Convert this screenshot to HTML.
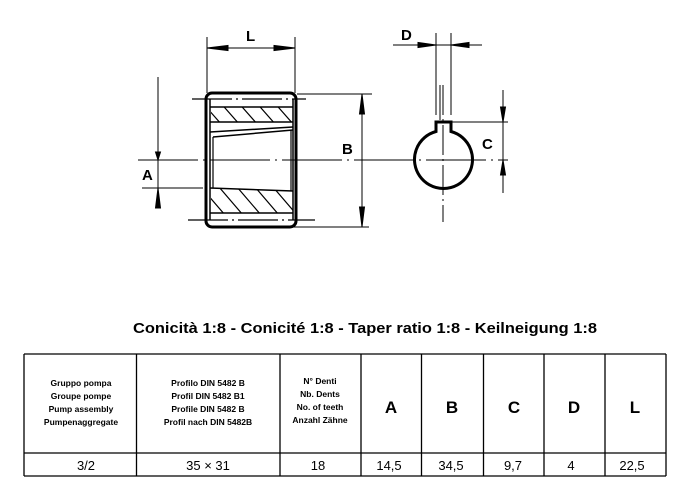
<!DOCTYPE html>
<html><head><meta charset="utf-8"><style>
html,body{margin:0;padding:0;background:#fff;}
svg{display:block;}
text{font-family:"Liberation Sans",Arial,sans-serif;}
</style></head><body>
<svg width="678" height="490" viewBox="0 0 678 490" xmlns="http://www.w3.org/2000/svg">
<defs>
<clipPath id="ht"><rect x="211" y="107" width="82" height="15"/></clipPath>
<clipPath id="hb"><polygon points="211,188 293,191 293,213 211,213"/></clipPath>
</defs>
<g stroke="#000" fill="none">
<!-- L dimension -->
<line x1="207" y1="37" x2="207" y2="93" stroke-width="1"/>
<line x1="295" y1="37" x2="295" y2="93" stroke-width="1"/>
<line x1="207" y1="48" x2="295" y2="48" stroke-width="1"/>
<polygon points="207,48 228,45.5 228,50.5" fill="#000"/>
<polygon points="295,48 274,45.5 274,50.5" fill="#000"/>
<!-- gear body -->
<rect x="206" y="93" width="90" height="134" rx="6" stroke-width="3"/>
<line x1="192" y1="99" x2="306" y2="99" stroke-width="1.2" stroke-dasharray="40,4,2,4"/>
<line x1="188" y1="220" x2="315" y2="220" stroke-width="1.2" stroke-dasharray="40,4,2,4"/>
<line x1="210" y1="99" x2="210" y2="220" stroke-width="1.5"/>
<line x1="293" y1="99" x2="293" y2="220" stroke-width="1.5"/>
<line x1="210" y1="107" x2="293" y2="107" stroke-width="1.5"/>
<line x1="210" y1="122" x2="293" y2="122" stroke-width="1.5"/>
<path d="M210,132 L293,127 M213,137 L293,130" stroke-width="1.5"/>
<line x1="213" y1="137" x2="213" y2="188" stroke-width="1.2"/>
<line x1="291" y1="130" x2="291" y2="191" stroke-width="1.2"/>
<line x1="210" y1="188" x2="293" y2="191" stroke-width="1.5"/>
<line x1="210" y1="213" x2="293" y2="213" stroke-width="1.5"/>
<g clip-path="url(#ht)" stroke-width="1.2">
<path d="M200,100 l22,25 M218,100 l22,25 M236,100 l22,25 M254,100 l22,25 M272,100 l22,25 M290,100 l22,25"/>
</g>
<g clip-path="url(#hb)" stroke-width="1.2">
<path d="M195,180 l30,35 M213,180 l30,35 M231,180 l30,35 M249,180 l30,35 M267,180 l30,35 M285,180 l30,35"/>
</g>
<!-- centerline -->
<line x1="138" y1="160" x2="508" y2="160" stroke-width="1" stroke-dasharray="60,5,2,5"/>
<!-- A -->
<line x1="158" y1="77" x2="158" y2="208" stroke-width="1"/>
<line x1="142" y1="188" x2="203" y2="188" stroke-width="1"/>
<polygon points="158,160 155.5,152 160.5,152" fill="#000"/>
<polygon points="158,188 155.5,208 160.5,208" fill="#000"/>
<!-- B -->
<line x1="297" y1="94" x2="372" y2="94" stroke-width="1"/>
<line x1="293" y1="227" x2="369" y2="227" stroke-width="1"/>
<line x1="362" y1="94" x2="362" y2="227" stroke-width="1"/>
<polygon points="362,94 359.5,114 364.5,114" fill="#000"/>
<polygon points="362,227 359.5,207 364.5,207" fill="#000"/>
<!-- circle with keyway -->
<path d="M436,131.5 A29,29 0 1 0 451,131.5 L451,122 L436,122 Z" stroke-width="3"/>
<line x1="443" y1="85" x2="443" y2="222" stroke-width="1" stroke-dasharray="30,4,2,4"/>
<line x1="440" y1="85" x2="440" y2="120" stroke-width="1"/>
<!-- D -->
<line x1="436" y1="33" x2="436" y2="115" stroke-width="1"/>
<line x1="451" y1="33" x2="451" y2="115" stroke-width="1"/>
<line x1="393" y1="45" x2="482" y2="45" stroke-width="1"/>
<polygon points="436,45 418,42.5 418,47.5" fill="#000"/>
<polygon points="451,45 469,42.5 469,47.5" fill="#000"/>
<!-- C -->
<line x1="451" y1="122" x2="508" y2="122" stroke-width="1"/>
<line x1="503" y1="90" x2="503" y2="193" stroke-width="1"/>
<polygon points="503,122 500.5,107 505.5,107" fill="#000"/>
<polygon points="503,160 500.5,175 505.5,175" fill="#000"/>
</g>
<g font-weight="bold" font-size="15" fill="#000">
<text x="246" y="41">L</text>
<text x="401" y="40">D</text>
<text x="142" y="180">A</text>
<text x="342" y="154">B</text>
<text x="482" y="149">C</text>
</g>
<text x="133" y="333" font-size="14.5" font-weight="bold" textLength="464" lengthAdjust="spacingAndGlyphs">Conicità 1:8 - Conicité 1:8 - Taper ratio 1:8 - Keilneigung 1:8</text>
<!-- table -->
<g stroke="#000" stroke-width="1.3" fill="none">
<line x1="24" y1="354" x2="666" y2="354"/>
<line x1="24" y1="453" x2="666" y2="453"/>
<line x1="24" y1="476" x2="666" y2="476"/>
<line x1="24" y1="354" x2="24" y2="476"/>
<line x1="136.5" y1="354" x2="136.5" y2="476"/>
<line x1="280" y1="354" x2="280" y2="476"/>
<line x1="361" y1="354" x2="361" y2="476"/>
<line x1="421.5" y1="354" x2="421.5" y2="476"/>
<line x1="483.5" y1="354" x2="483.5" y2="476"/>
<line x1="544" y1="354" x2="544" y2="476"/>
<line x1="605" y1="354" x2="605" y2="476"/>
<line x1="666" y1="354" x2="666" y2="476"/>
</g>
<g font-size="8.5" font-weight="bold" text-anchor="middle" fill="#000">
<text x="81" y="386">Gruppo pompa</text><text x="81" y="399">Groupe pompe</text><text x="81" y="412">Pump assembly</text><text x="81" y="425">Pumpenaggregate</text>
<text x="208" y="386">Profilo DIN 5482 B</text><text x="208" y="399">Profil DIN 5482 B1</text><text x="208" y="412">Profile DIN 5482 B</text><text x="208" y="425">Profil nach DIN 5482B</text>
<text x="320" y="384">N° Denti</text><text x="320" y="397">Nb. Dents</text><text x="320" y="410">No. of teeth</text><text x="320" y="423">Anzahl Zähne</text>
</g>
<g font-size="17" font-weight="bold" text-anchor="middle" fill="#000">
<text x="391" y="413">A</text><text x="452" y="413">B</text><text x="514" y="413">C</text><text x="574" y="413">D</text><text x="635" y="413">L</text>
</g>
<g font-size="13" text-anchor="middle" fill="#000">
<text x="86" y="470">3/2</text><text x="208" y="470">35 × 31</text><text x="318" y="470">18</text>
<text x="389" y="470">14,5</text><text x="451" y="470">34,5</text><text x="513" y="470">9,7</text>
<text x="571" y="470">4</text><text x="632" y="470">22,5</text>
</g>
</svg>
</body></html>
